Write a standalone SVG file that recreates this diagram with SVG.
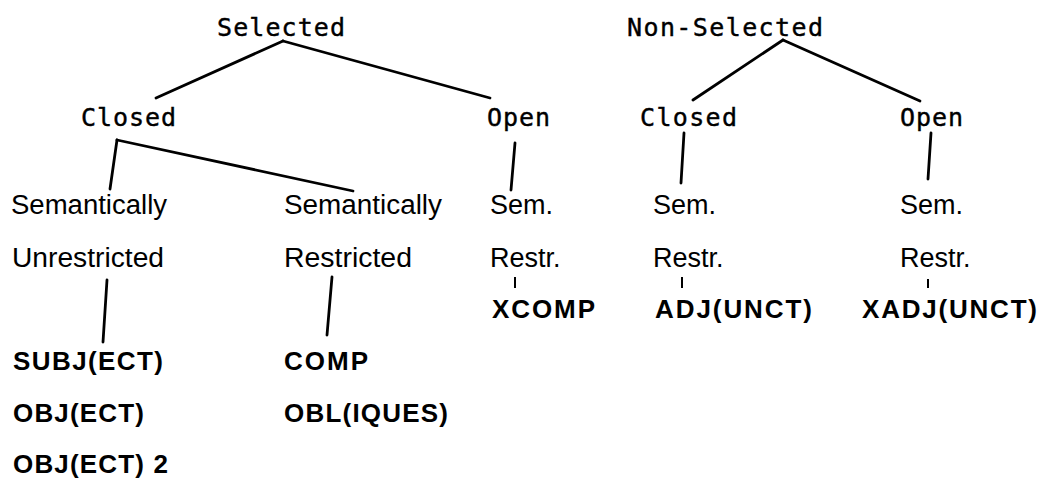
<svg xmlns="http://www.w3.org/2000/svg" width="1042" height="479" viewBox="0 0 1042 479">
<style>
.m{font-family:"DejaVu Sans Mono","Liberation Mono",monospace;font-size:25px;fill:#000;stroke:#000;stroke-width:0.4}
.s{font-family:"Liberation Sans",Arial,sans-serif;font-size:27px;fill:#000}
.b{font-family:"Liberation Sans",Arial,sans-serif;font-size:26px;font-weight:bold;fill:#000}
.c line{stroke:#000;stroke-width:2.8;stroke-linecap:round}
.t line{stroke:#000;stroke-width:2;stroke-linecap:butt}
</style>
<rect width="1042" height="479" fill="#fff"/>
<g id="connectors" class="c">
<line x1="283" y1="41" x2="156" y2="98"/>
<line x1="283" y1="41" x2="490" y2="98"/>
<line x1="117" y1="140" x2="110" y2="189"/>
<line x1="117" y1="140" x2="353" y2="191"/>
<line x1="515" y1="143" x2="511" y2="190"/>
<line x1="783" y1="40" x2="693" y2="100"/>
<line x1="783" y1="40" x2="920" y2="101"/>
<line x1="684" y1="133" x2="681" y2="183"/>
<line x1="931" y1="133" x2="928" y2="179"/>
<line x1="107" y1="280" x2="103" y2="342"/>
<line x1="332" y1="277" x2="327" y2="335"/>
</g>
<g id="ticks" class="t">
<line x1="515" y1="277" x2="515" y2="288"/>
<line x1="682" y1="277" x2="682" y2="288"/>
<line x1="928" y1="279" x2="928" y2="288"/>
</g>
<g id="n-selected"><text class="m" x="217" y="36" textLength="128" lengthAdjust="spacing">Selected</text></g>
<g id="n-closed1"><text class="m" x="81" y="126" textLength="95" lengthAdjust="spacing">Closed</text></g>
<g id="n-open1"><text class="m" x="487" y="126" textLength="63" lengthAdjust="spacing">Open</text></g>
<g id="n-nonselected"><text class="m" x="627" y="36" textLength="196" lengthAdjust="spacing">Non-Selected</text></g>
<g id="n-closed2"><text class="m" x="640" y="126" textLength="97" lengthAdjust="spacing">Closed</text></g>
<g id="n-open2"><text class="m" x="900" y="126" textLength="63" lengthAdjust="spacing">Open</text></g>
<g id="n-semunres">
<text class="s" x="11" y="214" textLength="156" lengthAdjust="spacingAndGlyphs">Semantically</text>
<text class="s" x="12" y="267" textLength="152" lengthAdjust="spacingAndGlyphs">Unrestricted</text>
</g>
<g id="n-semres">
<text class="s" x="284" y="214" textLength="158" lengthAdjust="spacingAndGlyphs">Semantically</text>
<text class="s" x="284" y="267" textLength="128" lengthAdjust="spacingAndGlyphs">Restricted</text>
</g>
<g id="n-semrestr1">
<text class="s" x="490" y="214">Sem.</text>
<text class="s" x="490" y="267">Restr.</text>
</g>
<g id="n-semrestr2">
<text class="s" x="653" y="214">Sem.</text>
<text class="s" x="653" y="267">Restr.</text>
</g>
<g id="n-semrestr3">
<text class="s" x="900" y="214">Sem.</text>
<text class="s" x="900" y="267">Restr.</text>
</g>
<g id="n-subj">
<text class="b" x="13" y="370" textLength="150" lengthAdjust="spacing">SUBJ(ECT)</text>
<text class="b" x="13" y="422" textLength="131" lengthAdjust="spacing">OBJ(ECT)</text>
<text class="b" x="13" y="473" textLength="155" lengthAdjust="spacing">OBJ(ECT) 2</text>
</g>
<g id="n-comp">
<text class="b" x="284" y="370" textLength="84" lengthAdjust="spacing">COMP</text>
<text class="b" x="284" y="422" textLength="164" lengthAdjust="spacing">OBL(IQUES)</text>
</g>
<g id="n-xcomp"><text class="b" x="492" y="318" textLength="103" lengthAdjust="spacing">XCOMP</text></g>
<g id="n-adj"><text class="b" x="655" y="318" textLength="157" lengthAdjust="spacing">ADJ(UNCT)</text></g>
<g id="n-xadj"><text class="b" x="862" y="318" textLength="175" lengthAdjust="spacing">XADJ(UNCT)</text></g>
</svg>
